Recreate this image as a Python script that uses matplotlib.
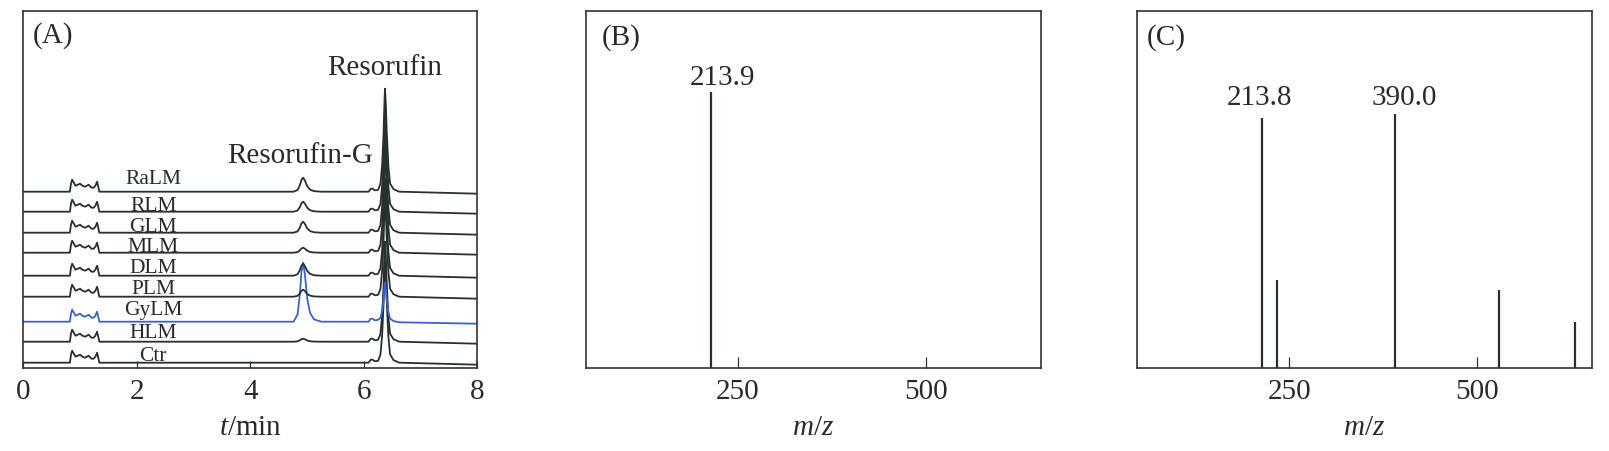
import numpy as np
import matplotlib.pyplot as plt

plt.rcParams['font.family'] = 'Liberation Serif'
plt.rcParams['mathtext.fontset'] = 'custom'
plt.rcParams['mathtext.it'] = 'Liberation Serif:italic'
plt.rcParams['mathtext.rm'] = 'Liberation Serif'

# (A) chromatograms, intensities in arbitrary units
samples = ['Ctr', 'HLM', 'GyLM', 'PLM', 'DLM', 'MLM', 'GLM', 'RLM', 'RaLM']
baselines = [5, 26, 46, 71, 92, 115, 135, 156, 176]
g_heights = [0, 3, 59, 7, 12, 5, 11, 10, 14]        # resorufin-G at ~4.93 min
r_heights = [105, 100, 39, 100, 97, 102, 100, 100, 103]  # resorufin at ~6.37 min

t_min = [0.00, 0.82, 0.84, 0.86, 0.89, 0.92, 0.96, 1.00, 1.04, 1.09, 1.15, 1.20,
         1.24, 1.27, 1.30, 1.32, 1.34,
         4.76, 4.83, 4.87, 4.90, 4.93, 4.96, 5.00, 5.05, 5.12, 5.25,
         6.08, 6.12, 6.15, 6.19, 6.22, 6.25, 6.29, 6.32, 6.345, 6.36, 6.37,
         6.385, 6.40, 6.43, 6.46, 6.52, 6.62, 8.00]
# solvent front wiggles, same in every run
front = [0, 0, 8, 12, 9, 6, 7, 8, 6, 5, 7, 4, 4, 6, 10, 5, 0,
         0, 0, 0, 0, 0, 0, 0, 0, 0, 0,
         0, 0, 0, 0, 0, 0, 0, 0, 0, 0, 0, 0, 0, 0, 0, 0, 0, 0]
g_shape = [0] * 17 + [0, 0.12, 0.45, 0.85, 1.0, 0.8, 0.4, 0.15, 0.04, 0] + [0] * 18
shoulder = [0] * 27 + [0, 3, 3, 1.5, 1.5, 2, 1.5, 1, 0.5, 0, 0, 0, 0, 0, 0, 0, 0, 0]
r_shape = [0] * 32 + [0, 0.06, 0.25, 0.55, 0.85, 1.0, 0.85, 0.6, 0.25, 0.08, 0.03, 0.01, 0]
drift = [0] * 41 + [0, -0.5, -1, -2]

# (B) / (C) mass spectra, relative intensity
mz_b = [213.9]
int_b = [77.4]
mz_c = [213.8, 233.5, 390.0, 529.0, 630.0]
int_c = [69.9, 24.6, 71.1, 21.7, 12.8]

W, H = 1609, 451
dark = '#263030'
blue = '#3a62c8'
txt = '#2a2a2a'
fs = 21


def axes_px(left, right, top=11, bottom=367.7):
    return fig.add_axes([left / W, 1 - bottom / H, (right - left) / W, (bottom - top) / H])


def style(ax, ticklen):
    for s in ax.spines.values():
        s.set_color('#333333')
        s.set_linewidth(1.2)
    ax.tick_params(axis='x', direction='in', length=ticklen, width=0.9, color='#333333',
                   labelsize=fs, labelcolor=txt, pad=8, top=False)
    ax.tick_params(axis='y', left=False, labelleft=False)


fig = plt.figure(figsize=(W / 100, H / 100), dpi=100)

# ---- (A)
axA = axes_px(23.3, 477.5)
t = np.array(t_min)
for name, b, gh, rh in zip(samples, baselines, g_heights, r_heights):
    y = (b + np.array(front) + gh * np.array(g_shape) + np.array(shoulder)
         + rh * np.array(r_shape) + np.array(drift))
    axA.plot(t, y, color=blue if name == 'GyLM' else dark, lw=1.3)

label_offsets = [2, 4, 7, 3, 3, 1, 1, 1, 8]
for name, b, off in zip(samples, baselines, label_offsets):
    axA.text(2.29, b + off, name, ha='center', va='baseline', fontsize=15.5, color=txt)

axA.text(6.37, 293, 'Resorufin', ha='center', va='baseline', fontsize=fs, color=txt)
axA.text(4.88, 205, 'Resorufin-G', ha='center', va='baseline', fontsize=fs, color=txt)
axA.text(0.021, 0.91, '(A)', transform=axA.transAxes, fontsize=fs, va='baseline', color=txt)
axA.set_xlim(0, 8)
axA.set_ylim(0, 356.7)
axA.set_xticks([0, 2, 4, 6, 8])
style(axA, 5)
axA.set_xlabel(r'$\mathit{t}$/min', fontsize=fs, color=txt, labelpad=7)

# ---- (B)
axB = axes_px(585.5, 1041)
axB.vlines(mz_b, 0, int_b, color=dark, lw=1.6)
axB.text(229.9, 79.3, '213.9', ha='center', va='baseline', fontsize=fs, color=txt)
axB.text(0.035, 0.905, '(B)', transform=axB.transAxes, fontsize=fs, va='baseline', color=txt)
axB.set_xlim(48, 652)
axB.set_ylim(0, 100)
axB.set_xticks([250, 500])
style(axB, 8)
axB.set_xlabel(r'$\mathit{m/z}$', fontsize=fs, color=txt, labelpad=7)

# ---- (C)
axC = axes_px(1137.3, 1591.7)
axC.vlines(mz_c, 0, int_c, color=dark, lw=1.6)
axC.text(210.5, 73.7, '213.8', ha='center', va='baseline', fontsize=fs, color=txt)
axC.text(402.9, 73.7, '390.0', ha='center', va='baseline', fontsize=fs, color=txt)
axC.text(0.021, 0.905, '(C)', transform=axC.transAxes, fontsize=fs, va='baseline', color=txt)
axC.set_xlim(48, 652)
axC.set_ylim(0, 100)
axC.set_xticks([250, 500])
style(axC, 8)
axC.set_xlabel(r'$\mathit{m/z}$', fontsize=fs, color=txt, labelpad=7)

fig.savefig('out.png', dpi=100)
